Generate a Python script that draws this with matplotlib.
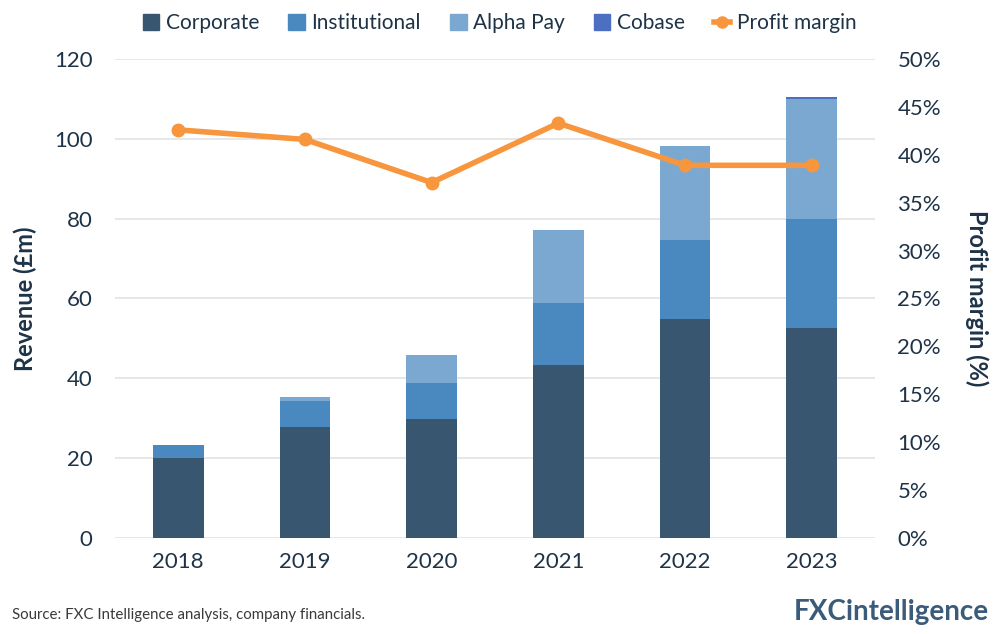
import matplotlib
matplotlib.use("Agg")
import matplotlib.pyplot as plt
from matplotlib.lines import Line2D
from matplotlib.patches import Patch

plt.rcParams['font.family'] = ['Lato', 'DejaVu Sans']

years = ["2018", "2019", "2020", "2021", "2022", "2023"]
corporate = [20.1, 27.7, 29.9, 43.4, 54.9, 52.6]
institutional = [3.1, 6.6, 8.9, 15.5, 19.8, 27.3]
alpha_pay = [0.0, 1.0, 7.1, 18.3, 23.4, 30.1]
cobase = [0.0, 0.0, 0.0, 0.0, 0.0, 0.4]
profit_margin = [42.6, 41.6, 37.1, 43.3, 38.9, 38.9]

c_corp = "#38566f"
c_inst = "#4a89bf"
c_alpha = "#7ba8d0"
c_cob = "#4d6fc2"
c_line = "#f7963d"
txt = "#1e3347"

fig = plt.figure(figsize=(9.99, 6.34), dpi=100)
ax = fig.add_axes([0.115, 0.1514, 0.761, 0.7556])
x = list(range(len(years)))
w = 0.4
ax.bar(x, corporate, w, color=c_corp, zorder=2)
ax.bar(x, institutional, w, bottom=corporate, color=c_inst, zorder=2)
bot3 = [a + b for a, b in zip(corporate, institutional)]
ax.bar(x, alpha_pay, w, bottom=bot3, color=c_alpha, zorder=2)
bot4 = [a + b for a, b in zip(bot3, alpha_pay)]
ax.bar(x, cobase, w, bottom=bot4, color=c_cob, zorder=2)

ax.set_xlim(-0.5, 5.5)
ax.set_ylim(0, 120)
ax.set_yticks(range(0, 121, 20))
ax.set_xticks(x)
ax.set_xticklabels(years)
ax.grid(axis='y', color='#e3e3e3', linewidth=1.2, zorder=0)
for s in ax.spines.values():
    s.set_visible(False)
ax.tick_params(axis='both', length=0, labelsize=16, labelcolor=txt)
ax.tick_params(axis='y', pad=16)
ax.tick_params(axis='x', pad=10)
ax.set_ylabel("Revenue (£m)", fontsize=17, fontweight='bold', color=txt, labelpad=12)

ax2 = ax.twinx()
ax2.plot(x, profit_margin, color=c_line, linewidth=4, marker='o', markersize=9, zorder=3)
ax2.set_ylim(0, 50)
ax2.set_yticks(range(0, 51, 5))
ax2.set_yticklabels([f"{v}%" for v in range(0, 51, 5)])
for s in ax2.spines.values():
    s.set_visible(False)
ax2.tick_params(axis='y', length=0, labelsize=16, labelcolor=txt, pad=16)
ax2.set_ylabel("Profit margin (%)", fontsize=17, fontweight='bold', color=txt, rotation=270, labelpad=34)

handles = [
    Patch(color=c_corp, label="Corporate"),
    Patch(color=c_inst, label="Institutional"),
    Patch(color=c_alpha, label="Alpha Pay"),
    Patch(color=c_cob, label="Cobase"),
    Line2D([0], [0], color=c_line, linewidth=4, marker='o', markersize=8, label="Profit margin"),
]
leg = fig.legend(handles=handles, loc='center', bbox_to_anchor=(0.5, 0.963), ncol=5, frameon=False,
                 fontsize=15, handlelength=0.8, handleheight=0.8, handletextpad=0.3, columnspacing=1.4)
for t in leg.get_texts():
    t.set_color(txt)

fig.text(0.012, 0.03, "Source: FXC Intelligence analysis, company financials.", fontsize=10.8, color="#3a3a3a", va='center')
fig.text(0.99, 0.035, "FXCintelligence", fontsize=20, fontweight='bold', color="#3b5b7a", ha='right', va='center')

fig.savefig("out.png", dpi=100)
